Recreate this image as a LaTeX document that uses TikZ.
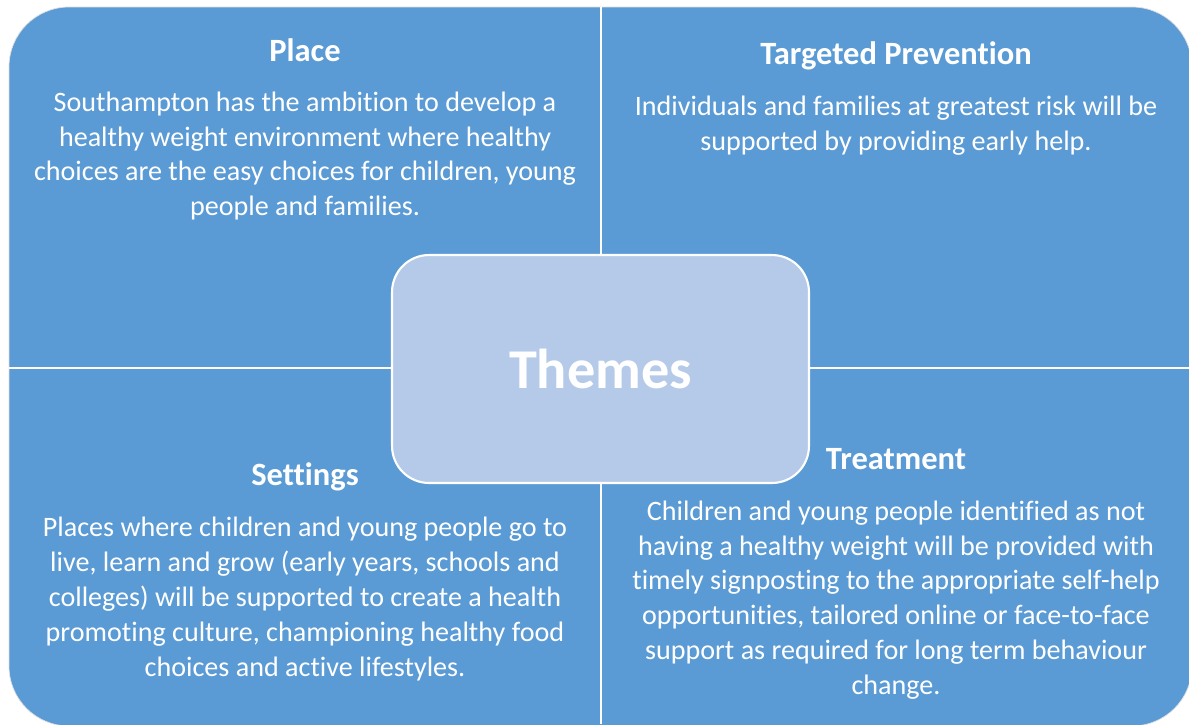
\documentclass[tikz,border=0pt]{standalone}
\usepackage{fontspec}
\setmainfont{Carlito}[Ligatures=CommonOff]
\definecolor{themeblue}{HTML}{5B9BD5}
\definecolor{themelight}{HTML}{B5CAE8}
\newcommand{\headfont}{\fontsize{18.5}{22}\selectfont\bfseries}
\newcommand{\bodyfont}{\fontsize{16}{19.8}\selectfont}
\tikzset{
  heading/.style={text=white, font=\headfont, inner sep=0pt},
  body/.style={text=white, font=\bodyfont, align=center, inner sep=0pt},
  divider/.style={draw=white, line width=1.2pt},
}

\begin{document}
\begin{tikzpicture}[x=0.02cm, y=-0.02cm]
\useasboundingbox (0,0) rectangle (1189,724);
% outer panel and dividers
\fill[themeblue, draw=gray!25, rounded corners=1.2cm] (9,7) rectangle (1192,726);
\draw[divider] (601,7) -- (601,724);
\draw[divider] (9,368) -- (1189,368);
% top left
\node[heading] (placehead) at (305,50) {Place};
\node[body] (placebody) at (305,156) {Southampton has the ambition to develop a\\
  healthy weight environment where healthy\\
  choices are the easy choices for children, young\\
  people and families.};
% top right
\node[heading] (prevhead) at (896,56) {Targeted Prevention};
\node[body] (prevbody) at (896,126) {Individuals and families at greatest risk will be\\
  supported by providing early help.};
% bottom left
\node[heading] (sethead) at (305,477) {Settings};
\node[body] (setbody) at (305,599) {Places where children and young people go to\\
  live, learn and grow (early years, schools and\\
  colleges) will be supported to create a health\\
  promoting culture, championing healthy food\\
  choices and active lifestyles.};
% bottom right
\node[heading] (treathead) at (896,459) {Treatment};
\node[body] (treatbody) at (896,600) {Children and young people identified as not\\
  having a healthy weight will be provided with\\
  timely signposting to the appropriate self-help\\
  opportunities, tailored online or face-to-face\\
  support as required for long term behaviour\\
  change.};
% centre
\node[fill=themelight, draw=white, line width=1.2pt, rounded corners=0.74cm,
  minimum width=8.34cm, minimum height=4.56cm, text=white,
  font=\fontsize{32}{36}\selectfont\bfseries] (themes) at (600.5,369) {Themes};
\end{tikzpicture}
\end{document}
